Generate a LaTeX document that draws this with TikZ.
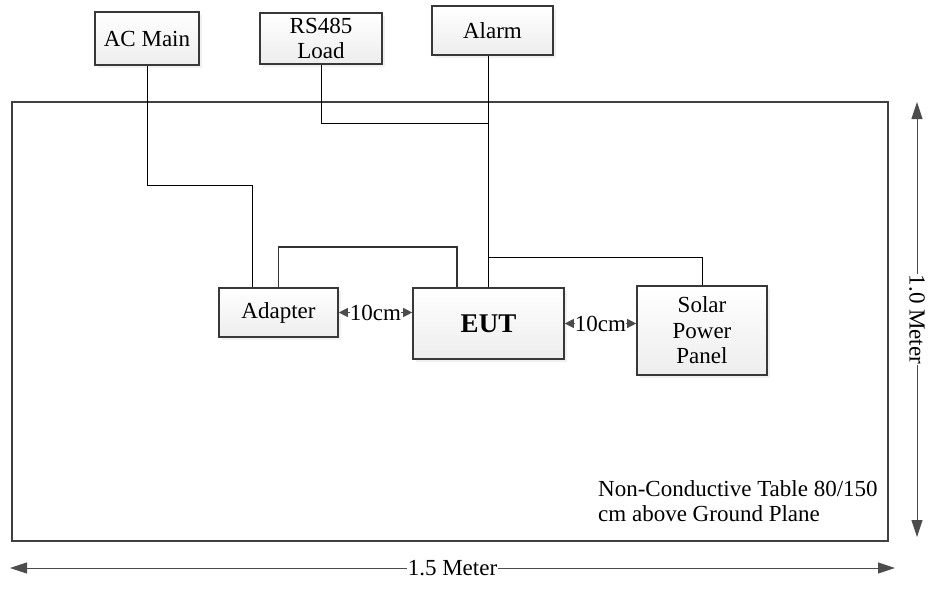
\documentclass[tikz,border=0pt]{standalone}
\usepackage{fontspec}
\setmainfont{Liberation Serif}
\usepackage{tikz}
\usetikzlibrary{shapes, positioning, calc, shadows, arrows.meta}
\colorlet{boxline}{black!78}
\colorlet{tableline}{black!75}
\colorlet{dimline}{black!70}

\begin{document}
\begin{tikzpicture}[x=1pt, y=-1pt,
    font=\fontsize{23}{25.5}\selectfont,
    device/.style={rectangle,
      draw=boxline,
      line width=1.6pt,
      top color=white,
      bottom color=gray!14,
      drop shadow={shadow xshift=3pt, shadow yshift=-3pt, fill=gray!22},
      inner sep=0pt,
      align=center,
      minimum width=#1},
    wire/.style={draw=black, line width=0.8pt},
    cable/.style={draw=black!80, line width=1.8pt},
    gap/.style={draw=dimline, line width=0.8pt,
      {Triangle[length=9pt,width=9pt]}-{Triangle[length=9pt,width=9pt]}},
    dim/.style={draw=dimline, line width=0.8pt,
      {Triangle[length=17pt,width=11pt]}-{Triangle[length=17pt,width=11pt]}}]
  \useasboundingbox (0,0) rectangle (934,589);

  % TABLE

  \node[rectangle, draw=tableline, line width=2.6pt,
    minimum width=876pt, minimum height=439pt] (table) at (450,321.5) {};

  \node[anchor=north west, inner sep=0pt, align=left] (tablenote) at (598,480)
    {Non-Conductive Table 80/150\\cm above Ground Plane};

  % DEVICES

  \node[device=104pt, minimum height=53pt] (acmain) at (147,38.5) {AC Main};
  \node[device=122pt, minimum height=51pt] (rsload) at (321,38.5) {RS485\\Load};
  \node[device=121pt, minimum height=49pt] (alarm) at (492.5,30.5) {Alarm};

  \node[device=119pt, minimum height=49pt] (adapter) at (278.5,312.5) {Adapter};
  \node[device=151pt, minimum height=71pt,
    font=\fontsize{27}{30}\selectfont\bfseries] (eut) at (488.5,323.5) {EUT};
  \node[device=130pt, minimum height=89pt] (solar) at (702,330.5)
    {Solar\\Power\\Panel};

  % CONNECTIONS

  \draw[wire] (acmain.south) -- ++(0,120) -| ([xshift=-26.5pt]adapter.north);
  \draw[cable] (adapter.north) -- ++(0,-40) -| ([xshift=-31.5pt]eut.north);
  \draw[wire] (eut.north) -- (eut.north |- alarm.south);
  \draw[wire] (rsload.south) |- (eut.north |- 0,123);
  \draw[wire] (eut.north |- 0,257) -| (solar.north);

  % DISTANCES

  \draw[gap] (adapter.east) -- node[fill=white, inner sep=0pt] {10cm}
    (adapter.east -| eut.west);
  \draw[gap] (eut.east) -- node[fill=white, inner sep=0pt] {10cm}
    (eut.east -| solar.west);

  \coordinate (widthleft) at (10,568);
  \coordinate (widthright) at (895,568);
  \draw[dim] (widthleft) -- node[fill=white, inner sep=1pt] {1.5 Meter}
    (widthright);

  \coordinate (heighttop) at (917,102);
  \coordinate (heightbottom) at (917,537);
  \draw[dim] (heighttop) -- node[fill=white, inner sep=1pt, rotate=-90]
    {1.0 Meter} (heightbottom);

\end{tikzpicture}
\end{document}
